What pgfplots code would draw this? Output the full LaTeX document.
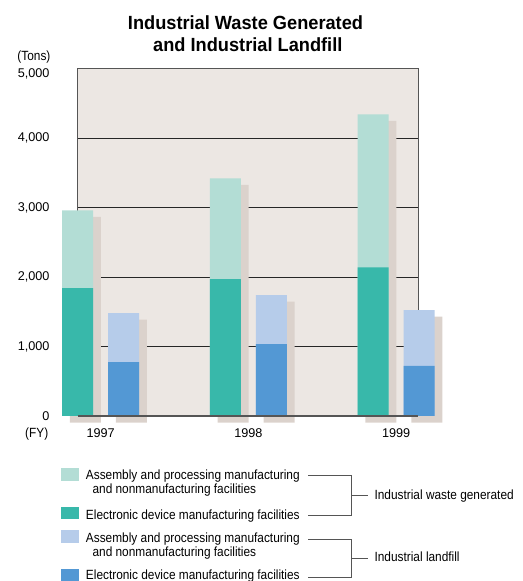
\documentclass[border=0pt]{standalone}
\usepackage{fontspec}
\setmainfont{Liberation Sans}
\newfontfamily\narrowsans[FakeStretch=0.89]{Liberation Sans}
\newfontfamily\titlesans[FakeStretch=0.955]{Liberation Sans}
\usepackage{pgfplots}
\pgfplotsset{compat=1.18}
\usepackage{pgfplotstable}

\definecolor{panel}{RGB}{236,231,227}
\definecolor{shade}{RGB}{219,210,204}
\definecolor{wasteLight}{RGB}{179,221,213}
\definecolor{wasteDark}{RGB}{56,184,170}
\definecolor{fillLight}{RGB}{182,204,234}
\definecolor{fillDark}{RGB}{83,152,212}
\definecolor{rule}{RGB}{85,85,85}

% Industrial waste generated (tons): electronic device / assembly & nonmanufacturing
\pgfplotstableread{
x year elec asm
0 1997 1840 1120
1 1998 1970 1450
2 1999 2140 2200
}\waste
% Industrial landfill (tons)
\pgfplotstableread{
x year elec asm
0 1997 775 705
1 1998 1035 705
2 1999 720 805
}\landfill

\newcommand\labelfont{\narrowsans\fontsize{10}{12}\selectfont}
\newcommand\tickfont{\fontsize{9.5}{11}\selectfont}

\begin{document}
\begin{tikzpicture}[x=0.75pt,y=0.75pt]
\path[use as bounding box] (0,0) rectangle (523,581);

\begin{axis}[
  at={(75.525pt,123.75pt)}, anchor=origin,
  scale only axis, width=255pt, height=260.6pt,
  xmin=-0.1537, xmax=2.148, ymin=0, ymax=5000,
  ybar, bar width=23.25pt, clip=false,
  axis background/.style={fill=panel},
  axis line style={draw=rule, line width=0.75pt},
  ytick={0,1000,2000,3000,4000},
  extra y ticks={5000},
  extra y tick style={grid=none, yticklabel style={yshift=-3.75pt}},
  ymajorgrids, major grid style={draw=black!85, line width=0.75pt},
  xtick={0,1,2}, xticklabels={1997,1998,1999},
  major tick length=0pt,
  scaled y ticks=false,
  yticklabel style={font=\tickfont, anchor=east, inner sep=0pt, xshift=-21.2pt,
    /pgf/number format/assume math mode=true, /pgf/number format/1000 sep={,}},
  xticklabel style={font=\tickfont, anchor=base, inner sep=0pt, yshift=-16.3pt},
]
% drop shadows behind the bars
\addplot[draw=none, fill=shade, bar shift=-11.44pt, yshift=-4.9pt]
  table[x=x, y expr=\thisrow{elec}+\thisrow{asm}] {\waste};
\addplot[draw=none, fill=shade, bar shift=23.06pt, yshift=-4.9pt]
  table[x=x, y expr=\thisrow{elec}+\thisrow{asm}] {\landfill};
% waste generated: total, then electronic device share
\addplot[draw=none, fill=wasteLight, bar shift=-17.25pt]
  table[x=x, y expr=\thisrow{elec}+\thisrow{asm}] {\waste};
\addplot[draw=none, fill=wasteDark, bar shift=-17.25pt]
  table[x=x, y=elec] {\waste};
% landfill: total, then electronic device share
\addplot[draw=none, fill=fillLight, bar shift=17.25pt]
  table[x=x, y expr=\thisrow{elec}+\thisrow{asm}] {\landfill};
\addplot[draw=none, fill=fillDark, bar shift=17.25pt]
  table[x=x, y=elec] {\landfill};
% baseline drawn over the bars
\draw[rule, line width=1pt] (rel axis cs:0,0) -- (rel axis cs:1,0);
\end{axis}

% title and unit labels
\node[anchor=base, inner sep=0pt, font=\titlesans\fontsize{14.3}{16}\selectfont\bfseries]
  at (245.5,551.7) {Industrial Waste Generated};
\node[anchor=base, inner sep=0pt, font=\titlesans\fontsize{14.3}{16}\selectfont\bfseries]
  at (247.8,529.3) {and Industrial Landfill};
\node[anchor=base east, inner sep=0pt, font=\labelfont] at (50.7,520.3) {(Tons)};
\node[anchor=base east, inner sep=0pt, font=\labelfont] at (48.5,143.3) {(FY)};

% legend swatches
\fill[wasteLight] (61,100.3) rectangle (79,113);
\fill[wasteDark]  (61,61.7)  rectangle (79,74.3);
\fill[fillLight]  (61,38)    rectangle (79,50.7);
\fill[fillDark]   (61,0)     rectangle (79,12.3);

% legend texts
\begin{scope}[every node/.style={anchor=base west, inner sep=0pt, font=\labelfont}]
\node at (85.7,101.7) {Assembly and processing manufacturing};
\node at (92.3,87.3)  {and nonmanufacturing facilities};
\node at (85.7,61.7)  {Electronic device manufacturing facilities};
\node at (85.7,38.5)  {Assembly and processing manufacturing};
\node at (92.3,24.5)  {and nonmanufacturing facilities};
\node at (85.7,1.5)   {Electronic device manufacturing facilities};
\node at (374.3,81.7) {Industrial waste generated};
\node at (374.3,19.5) {Industrial landfill};
\end{scope}

% brackets grouping the legend entries
\draw[rule, line width=0.75pt] (308.3,105) -- (351.7,105) -- (351.7,65) -- (308.3,65);
\draw[rule, line width=0.75pt] (351.7,85) -- (367.7,85);
\draw[rule, line width=0.75pt] (308.3,41.8) -- (351.7,41.8) -- (351.7,3.7) -- (308.3,3.7);
\draw[rule, line width=0.75pt] (351.7,22.8) -- (367.7,22.8);
\end{tikzpicture}
\end{document}
